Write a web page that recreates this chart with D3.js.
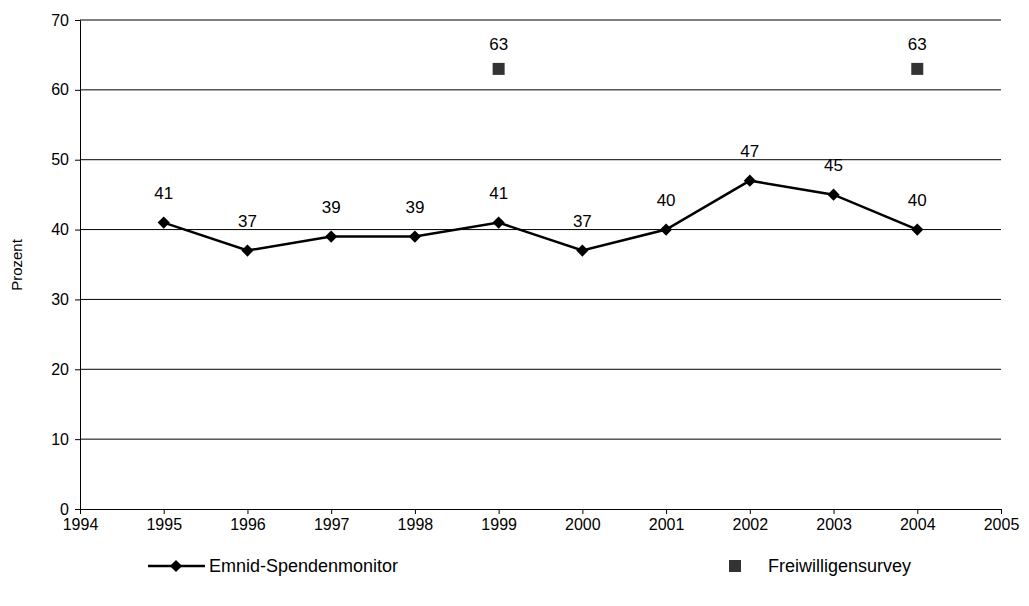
<!DOCTYPE html>
<html><head><meta charset="utf-8">
<script src="https://cdn.jsdelivr.net/npm/d3@7"></script>
<style>body{margin:0;background:#fff}text{font-family:Arial,"Liberation Sans",sans-serif}</style>
</head><body><svg id="chart" width="1029" height="606"></svg>
<script>
var years = [1995, 1996, 1997, 1998, 1999, 2000, 2001, 2002, 2003, 2004];
var emnid = [41, 37, 39, 39, 41, 37, 40, 47, 45, 40];
var freiYears = [1999, 2004];
var frei = [63, 63];
var yTicks = [0, 10, 20, 30, 40, 50, 60, 70];
var xTicks = d3.range(1994, 2006);

var svg = d3.select('#chart');
var x = d3.scaleLinear().domain([1994, 2005]).range([80, 1001]);
var y = d3.scaleLinear().domain([0, 70]).range([509, 20]);

// gridlines
svg.append('g').selectAll('line').data(yTicks.slice(1)).enter().append('line')
  .attr('x1', 80).attr('x2', 1001)
  .attr('y1', function (d) { return y(d); }).attr('y2', function (d) { return y(d); })
  .attr('stroke', '#000').attr('stroke-width', 1);

var yAxis = svg.append('g').attr('transform', 'translate(80,0)')
  .call(d3.axisLeft(y).tickValues(yTicks).tickSize(5).tickPadding(6));
var xAxis = svg.append('g').attr('transform', 'translate(0,509)')
  .call(d3.axisBottom(x).tickValues(xTicks).tickFormat(d3.format('d')).tickSize(5).tickPadding(5));
[yAxis, xAxis].forEach(function (a) {
  a.select('.domain').attr('stroke', '#000');
  a.selectAll('text').style('font-size', '16px').attr('fill', '#000');
});

svg.append('text').attr('transform', 'translate(22,265) rotate(-90)')
  .attr('text-anchor', 'middle').style('font-size', '15px').text('Prozent');

var line = d3.line().x(function (d, i) { return x(years[i]); }).y(function (d) { return y(d); });
svg.append('path').datum(emnid).attr('d', line).attr('fill', 'none')
  .attr('stroke', '#000').attr('stroke-width', 2.5);

var diamond = d3.symbol().type(d3.symbolDiamond2).size(95);
svg.append('g').selectAll('path').data(emnid).enter().append('path')
  .attr('d', diamond)
  .attr('transform', function (d, i) { return 'translate(' + x(years[i]) + ',' + y(d) + ')'; });
svg.append('g').selectAll('text').data(emnid).enter().append('text')
  .attr('x', function (d, i) { return x(years[i]); }).attr('y', function (d) { return y(d) - 24; })
  .attr('text-anchor', 'middle').style('font-size', '17px').text(function (d) { return d; });

svg.append('g').selectAll('rect').data(frei).enter().append('rect')
  .attr('x', function (d, i) { return x(freiYears[i]) - 6; }).attr('y', function (d) { return y(d) - 6; })
  .attr('width', 12).attr('height', 12).attr('fill', '#333');
svg.append('g').selectAll('text').data(frei).enter().append('text')
  .attr('x', function (d, i) { return x(freiYears[i]); }).attr('y', function (d) { return y(d) - 19; })
  .attr('text-anchor', 'middle').style('font-size', '17px').text(function (d) { return d; });

// legend
var lg = svg.append('g').style('font-size', '18px');
lg.append('line').attr('x1', 148).attr('x2', 205).attr('y1', 566).attr('y2', 566)
  .attr('stroke', '#000').attr('stroke-width', 2.5);
lg.append('path').attr('d', diamond).attr('transform', 'translate(176,566)');
lg.append('text').attr('x', 209).attr('y', 572).text('Emnid-Spendenmonitor');
lg.append('rect').attr('x', 729).attr('y', 560).attr('width', 12).attr('height', 12).attr('fill', '#333');
lg.append('text').attr('x', 768).attr('y', 572).text('Freiwilligensurvey');
</script></body></html>
